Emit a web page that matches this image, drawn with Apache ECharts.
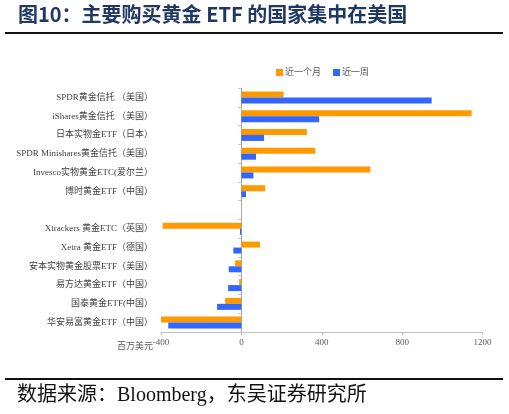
<!DOCTYPE html>
<html><head><meta charset="utf-8">
<script src="https://cdn.jsdelivr.net/npm/echarts@6/dist/echarts.min.js"></script>
<style>html,body{margin:0;padding:0;background:#fff}#c{width:509px;height:414px}</style>
</head><body><div id="c"></div>
<script>
var categories = ['SPDR黄金信托 （美国）','iShares黄金信托 （美国）','日本实物金ETF（日本）','SPDR Minishares黄金信托（美国）','Invesco实物黄金ETC(爱尔兰）','博时黄金ETF（中国）','','Xtrackers 黄金ETC（英国）','Xetra 黄金ETF（德国）','安本实物黄金股票ETF（美国）','易方达黄金ETF（中国）','国泰黄金ETF(中国）','华安易富黄金ETF（中国）'];
var monthValues = [210, 1146, 326, 368, 642, 119, null, -392, 93, -31, -11, -81, -402];
var weekValues = [947, 387, 113, 73, 60, 23, null, -7, -40, -63, -66, -121, -364];
var xTicks = [-400, 0, 400, 800, 1200];
var seriesNames = ['近一个月', '近一周'];

var chart = echarts.init(document.getElementById('c'));
var serifFont = "'Liberation Serif','Times New Roman','Noto Sans CJK SC',serif";
chart.setOption({
  animation: false,
  color: ['#FF9900', '#3366FF'],
  legend: {
    data: seriesNames, left: 271, top: 63, itemWidth: 7, itemHeight: 7, itemGap: 12,
    icon: 'rect', textStyle: {color: '#595959', fontSize: 9, fontFamily: serifFont, padding: [0,0,0,-3]}
  },
  grid: {left: 161, right: 26.5, top: 88, bottom: 82, outerBoundsMode: 'none', containLabel: false},
  xAxis: {
    type: 'value', min: xTicks[0], max: xTicks[xTicks.length-1], interval: 400,
    axisLine: {show: true, lineStyle: {color: '#BFBFBF'}},
    axisTick: {show: true, length: 3, lineStyle: {color: '#BFBFBF'}},
    splitLine: {show: false},
    axisLabel: {color: '#595959', fontSize: 9, fontFamily: serifFont, margin: 6, formatter: function(v){ return String(v); }}
  },
  yAxis: {
    type: 'category', data: categories, inverse: true,
    axisLine: {show: true, onZeroAxisIndex: 0, onZero: true, lineStyle: {color: '#A6A6A6'}},
    axisTick: {show: true, length: 3, lineStyle: {color: '#BFBFBF'}},
    axisLabel: {color: '#404040', fontSize: 9, fontFamily: serifFont, margin: 8, align: 'right'}
  },
  series: [
    {name: seriesNames[0], type: 'bar', data: monthValues, barWidth: 6, barGap: '0%'},
    {name: seriesNames[1], type: 'bar', data: weekValues, barWidth: 6, barGap: '0%'}
  ],
  graphic: [
    {type: 'text', left: 18, top: 4, style: {text: '图10：主要购买黄金 ETF 的国家集中在美国', fill: '#1F3864', font: "bold 20px 'Noto Sans CJK SC', sans-serif"}},
    {type: 'rect', shape: {x: 5, y: 32, width: 498, height: 2}, style: {fill: '#111'}},
    {type: 'text', left: 117, top: 341, style: {text: '百万美元', fill: '#595959', font: "9px 'Noto Sans CJK SC', sans-serif"}},
    {type: 'rect', shape: {x: 5, y: 378, width: 498, height: 2}, style: {fill: '#111'}},
    {type: 'text', left: 17, top: 386, style: {text: '数据来源：Bloomberg，东吴证券研究所', fill: '#111', font: "20px 'Liberation Serif','Noto Sans CJK SC', serif"}}
  ]
});
</script></body></html>
